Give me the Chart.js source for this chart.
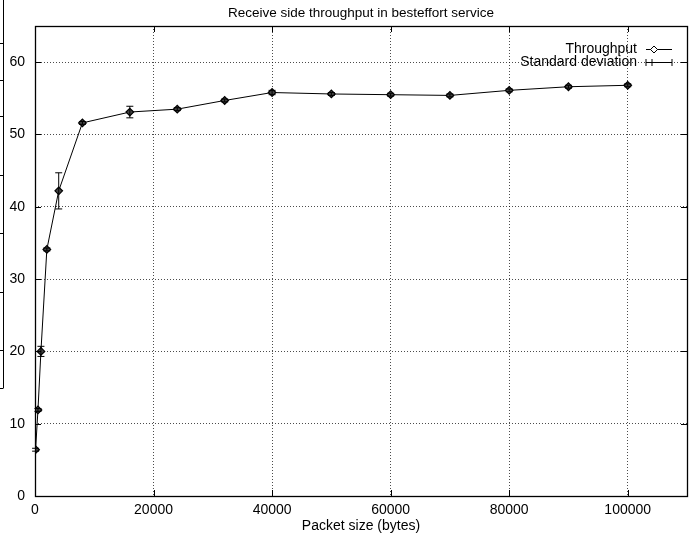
<!DOCTYPE html>
<html>
<head>
<meta charset="utf-8">
<script src="https://cdn.jsdelivr.net/npm/chart.js@4/dist/chart.umd.min.js"></script>
<style>
  html, body { margin: 0; padding: 0; background: #fff; }
  #wrap { width: 699px; height: 535px; }
</style>
</head>
<body>
<div id="wrap"><canvas id="chart-throughput" width="699" height="535"></canvas></div>
<script>
// Packet size (bytes) and measured throughput
var packetSizes = [100, 500, 1000, 2000, 4000, 8000, 16000, 24000, 32000, 40000, 50000, 60000, 70000, 80000, 90000, 100000];
var throughput  = [6.4, 11.9, 20.0, 34.1, 42.2, 51.6, 53.1, 53.5, 54.7, 55.8, 55.6, 55.5, 55.4, 56.1, 56.6, 56.8];
var stdDev      = [0.2, 0.2, 0.7, 0.2, 2.5, 0.2, 0.8, 0.2, 0.2, 0.3, 0.2, 0.2, 0.2, 0.2, 0.2, 0.2];
var xTicks = [0, 20000, 40000, 60000, 80000, 100000];
var yTicks = [0, 10, 20, 30, 40, 50, 60];
var chartTitle = 'Receive side throughput in besteffort service';
var seriesLabels = ['Throughput', 'Standard deviation'];

var FONT = '"Liberation Sans", Arial, Helvetica, sans-serif';

// frame, inward ticks, error bars, legend and title (gnuplot look)
var gnuplotLook = {
    id: 'gnuplotLook',
    afterDatasetsDraw: function(chart) {
        var ctx = chart.ctx, a = chart.chartArea;
        var xs = chart.scales.x, ys = chart.scales.y;
        ctx.save();
        ctx.strokeStyle = '#000';
        ctx.lineWidth = 1;

        // error bars
        for (var i = 0; i < packetSizes.length; i++) {
            var px = xs.getPixelForValue(packetSizes[i]);
            var top = ys.getPixelForValue(throughput[i] + stdDev[i]);
            var bot = ys.getPixelForValue(throughput[i] - stdDev[i]);
            ctx.beginPath();
            ctx.moveTo(px, top); ctx.lineTo(px, bot);
            ctx.moveTo(px - 3.5, top); ctx.lineTo(px + 3.5, top);
            ctx.moveTo(px - 3.5, bot); ctx.lineTo(px + 3.5, bot);
            ctx.stroke();
        }

        // frame
        ctx.lineWidth = 1.3;
        ctx.strokeRect(Math.round(a.left) + 0.5, Math.round(a.top) + 0.5,
            Math.round(a.right - a.left), Math.round(a.bottom - a.top));
        ctx.lineWidth = 1;

        // inward tick marks on all sides
        ctx.beginPath();
        xTicks.forEach(function(v) {
            var p = Math.round(xs.getPixelForValue(v)) + 0.5;
            ctx.moveTo(p, a.bottom); ctx.lineTo(p, a.bottom - 6);
            ctx.moveTo(p, a.top); ctx.lineTo(p, a.top + 6);
        });
        yTicks.forEach(function(v) {
            var p = Math.round(ys.getPixelForValue(v)) + 0.5;
            ctx.moveTo(a.left, p); ctx.lineTo(a.left + 6, p);
            ctx.moveTo(a.right, p); ctx.lineTo(a.right - 6, p);
        });
        ctx.stroke();

        // title
        ctx.fillStyle = '#000';
        ctx.font = '13.5px ' + FONT;
        ctx.textAlign = 'center';
        ctx.textBaseline = 'middle';
        ctx.fillText(chartTitle, (a.left + a.right) / 2, 13);

        // legend (right aligned text, sample on the right)
        ctx.font = '14px ' + FONT;
        ctx.textAlign = 'right';
        var tx = a.right - 50, sx0 = a.right - 41, sx1 = a.right - 15;
        ctx.fillText(seriesLabels[0], tx, 49);
        ctx.fillText(seriesLabels[1], tx, 62);
        ctx.beginPath();
        ctx.moveTo(sx0, 49.5); ctx.lineTo(sx1, 49.5);
        ctx.stroke();
        ctx.beginPath();
        var mx = sx0 + 8;
        ctx.moveTo(mx, 46); ctx.lineTo(mx + 3.5, 49.5); ctx.lineTo(mx, 53); ctx.lineTo(mx - 3.5, 49.5); ctx.closePath();
        ctx.fillStyle = '#fff'; ctx.fill(); ctx.stroke();
        ctx.beginPath();
        ctx.moveTo(sx0, 62.5); ctx.lineTo(sx1, 62.5);
        ctx.moveTo(sx0, 59); ctx.lineTo(sx0, 66);
        ctx.moveTo(sx0 + 6, 59); ctx.lineTo(sx0 + 6, 66);
        ctx.moveTo(sx1, 59); ctx.lineTo(sx1, 66);
        ctx.stroke();

        // cut-off frame remnant at the left edge
        ctx.beginPath();
        ctx.moveTo(3.5, 0); ctx.lineTo(3.5, 388);
        [43, 80, 116, 175, 233, 292, 350, 388].forEach(function(y) {
            ctx.moveTo(0, y + 0.5); ctx.lineTo(3.5, y + 0.5);
        });
        ctx.stroke();
        ctx.restore();
    }
};

var canvas = document.getElementById('chart-throughput');
new Chart(canvas, {
    type: 'line',
    data: {
        datasets: [{
            label: seriesLabels[0],
            data: packetSizes.map(function(s, i) { return { x: s, y: throughput[i] }; }),
            borderColor: '#000',
            borderWidth: 1,
            pointStyle: 'rectRot',
            pointRadius: 3.8,
            pointBackgroundColor: '#444',
            pointBorderColor: '#000',
            pointBorderWidth: 1.2,
            tension: 0
        }]
    },
    options: {
        responsive: false,
        animation: false,
        layout: { padding: { top: 26, right: 12, left: 0, bottom: 0 } },
        plugins: { legend: { display: false }, title: { display: false }, tooltip: { enabled: false } },
        scales: {
            x: {
                type: 'linear', min: 0, max: 110000,
                afterBuildTicks: function(s) { s.ticks = xTicks.map(function(v) { return { value: v }; }); },
                afterFit: function(s) { s.height = 39; },
                ticks: { color: '#000', padding: 6, maxRotation: 0, font: { family: FONT, size: 14 },
                         callback: function(v) { return String(v); } },
                grid: { color: 'rgba(0,0,0,0.7)', lineWidth: 1, drawTicks: false },
                border: { display: false, dash: [1, 2] },
                title: { display: true, text: 'Packet size (bytes)', color: '#000', padding: { top: 0, bottom: 0 }, font: { family: FONT, size: 14 } }
            },
            y: {
                type: 'linear', min: 0, max: 65,
                afterBuildTicks: function(s) { s.ticks = yTicks.map(function(v) { return { value: v }; }); },
                afterFit: function(s) { s.width = 35; },
                ticks: { color: '#000', padding: 10, font: { family: FONT, size: 14 },
                         callback: function(v) { return String(v); } },
                grid: { color: 'rgba(0,0,0,0.7)', lineWidth: 1, drawTicks: false },
                border: { display: false, dash: [1, 2] }
            }
        }
    },
    plugins: [gnuplotLook]
});
</script>
</body>
</html>
